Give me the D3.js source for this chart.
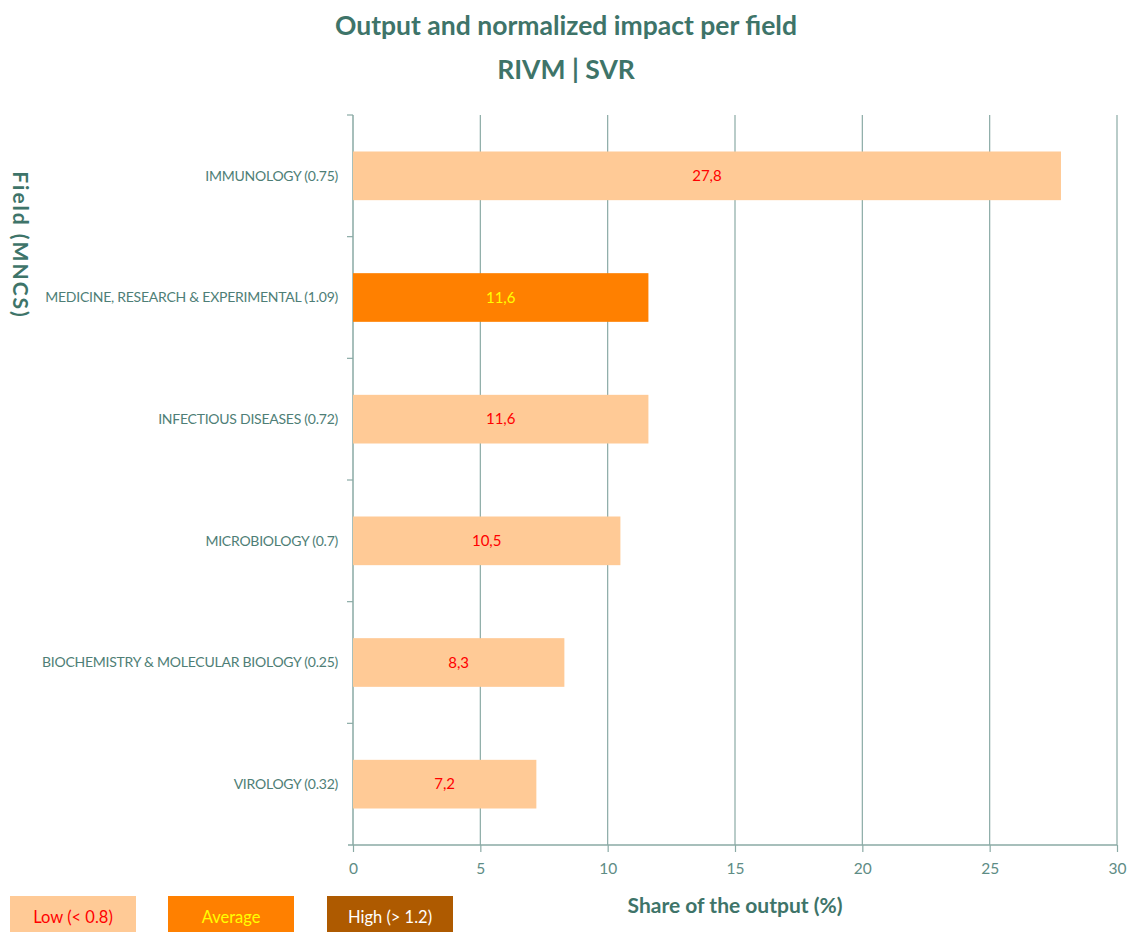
<!DOCTYPE html>
<html>
<head>
<meta charset="utf-8">
<script src="https://cdn.jsdelivr.net/npm/d3@7/dist/d3.min.js"></script>
<style>
  html, body { margin: 0; padding: 0; background: #ffffff; }
  svg { display: block; }
  text { font-family: Lato, "Open Sans", sans-serif; }
</style>
</head>
<body>
<svg id="chart" width="1131" height="932"></svg>
<script>
const categories = [
  "IMMUNOLOGY (0.75)",
  "MEDICINE, RESEARCH & EXPERIMENTAL (1.09)",
  "INFECTIOUS DISEASES (0.72)",
  "MICROBIOLOGY (0.7)",
  "BIOCHEMISTRY & MOLECULAR BIOLOGY (0.25)",
  "VIROLOGY (0.32)"
];
const shares = [27.8, 11.6, 11.6, 10.5, 8.3, 7.2];
const valueLabels = ["27,8", "11,6", "11,6", "10,5", "8,3", "7,2"];
const impactClass = ["Low", "Average", "Low", "Low", "Low", "Low"];
const xTicks = [0, 5, 10, 15, 20, 25, 30];
const legendLabels = ["Low (< 0.8)", "Average", "High (> 1.2)"];
const legendClasses = ["Low", "Average", "High"];

const fillColor = { Low: "#FFCA96", Average: "#FF8000", High: "#AE5A00" };
const textColor = { Low: "#FF0000", Average: "#FFFF00", High: "#FFFFFF" };
const axisColor = "#8AAAA5";
const labelColor = "#4E7E76";
const titleColor = "#3E7469";

const svg = d3.select("#chart");
const margin = { left: 353, right: 14, top: 115, bottom: 87 };
const W = 1131, H = 932;

const x = d3.scaleLinear().domain([0, 30]).range([margin.left, W - margin.right]);
const y = d3.scaleBand().domain(categories).range([margin.top, H - margin.bottom]).paddingInner(0.6).paddingOuter(0.3);
const yEdge = d3.scaleLinear().domain([0, categories.length]).range([margin.top, H - margin.bottom]);

// Title
svg.append("text").attr("x", 566).attr("y", 35).attr("text-anchor", "middle")
  .attr("font-size", 26.5).attr("font-weight", "bold").attr("fill", titleColor)
  .text("Output and normalized impact per field");
svg.append("text").attr("x", 566).attr("y", 79).attr("text-anchor", "middle")
  .attr("font-size", 26.5).attr("font-weight", "bold").attr("fill", titleColor)
  .text("RIVM | SVR");

// Gridlines
svg.append("g").selectAll("line").data(xTicks.slice(1)).join("line")
  .attr("x1", d => x(d)).attr("x2", d => x(d))
  .attr("y1", margin.top).attr("y2", H - margin.bottom)
  .attr("stroke", axisColor).attr("stroke-width", 1.2);

// X axis
const xAxis = d3.axisBottom(x).tickValues(xTicks).tickSize(7).tickPadding(11).tickFormat(d3.format("d"));
const gx = svg.append("g").attr("transform", `translate(0,${H - margin.bottom})`).call(xAxis);
gx.select(".domain").remove();
gx.append("line").attr("x1", x(0) - 5).attr("x2", x(30)).attr("y1", 0).attr("y2", 0)
  .attr("stroke", axisColor).attr("stroke-width", 1.5);
gx.selectAll(".tick line").attr("stroke", axisColor).attr("stroke-width", 1.2);
gx.selectAll(".tick text").attr("fill", "#5E8C85").attr("font-size", 15.5)
  .attr("font-family", "Lato, 'Open Sans', sans-serif");

// Y axis line + ticks at band edges
svg.append("line").attr("x1", x(0)).attr("x2", x(0))
  .attr("y1", margin.top).attr("y2", H - margin.bottom)
  .attr("stroke", axisColor).attr("stroke-width", 1.5);
svg.append("g").selectAll("line").data(d3.range(categories.length)).join("line")
  .attr("x1", x(0) - 6).attr("x2", x(0))
  .attr("y1", d => yEdge(d)).attr("y2", d => yEdge(d))
  .attr("stroke", axisColor).attr("stroke-width", 1.2);

// Category labels
svg.append("g").selectAll("text").data(categories).join("text")
  .attr("x", x(0) - 15).attr("y", d => y(d) + y.bandwidth() / 2)
  .attr("dy", "0.35em").attr("text-anchor", "end")
  .attr("font-size", 14).attr("letter-spacing", -0.25).attr("fill", labelColor)
  .text(d => d);

// Bars
const rows = categories.map((c, i) => ({ c, v: shares[i], lab: valueLabels[i], k: impactClass[i] }));
svg.append("g").selectAll("rect").data(rows).join("rect")
  .attr("x", x(0)).attr("y", d => y(d.c))
  .attr("width", d => x(d.v) - x(0)).attr("height", y.bandwidth())
  .attr("fill", d => fillColor[d.k]);

svg.append("g").selectAll("text").data(rows).join("text")
  .attr("x", d => (x(0) + x(d.v)) / 2).attr("y", d => y(d.c) + y.bandwidth() / 2)
  .attr("dy", "0.35em").attr("text-anchor", "middle")
  .attr("font-size", 15).attr("fill", d => textColor[d.k])
  .text(d => d.lab);

// Axis titles
svg.append("text").attr("x", 735).attr("y", 913).attr("text-anchor", "middle")
  .attr("font-size", 21).attr("font-weight", "bold").attr("fill", titleColor)
  .text("Share of the output (%)");
svg.append("text").attr("transform", "translate(13,245) rotate(90)")
  .attr("text-anchor", "middle")
  .attr("font-size", 21).attr("font-weight", "bold").attr("letter-spacing", 2)
  .attr("fill", titleColor)
  .text("Field (MNCS)");

// Legend
const legendX = [10, 168, 327];
const lg = svg.append("g").selectAll("g").data(legendClasses).join("g")
  .attr("transform", (d, i) => `translate(${legendX[i]},896)`);
lg.append("rect").attr("width", 126).attr("height", 40).attr("fill", d => fillColor[d]);
lg.append("text").attr("x", 63).attr("y", 21).attr("dy", "0.35em").attr("text-anchor", "middle")
  .attr("font-size", 16.5).attr("fill", d => textColor[d])
  .text((d, i) => legendLabels[i]);
</script>
</body>
</html>
